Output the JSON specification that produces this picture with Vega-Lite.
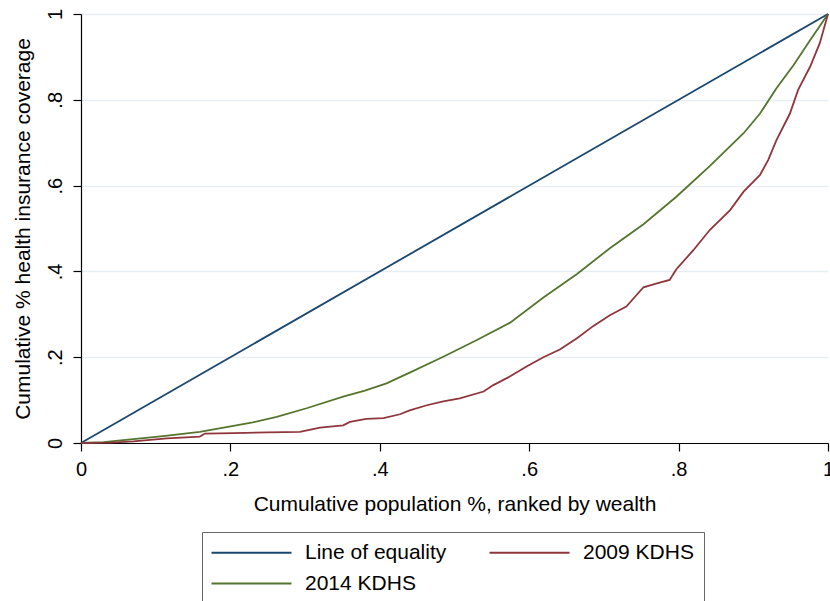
{
  "$schema": "https://vega.github.io/schema/vega-lite/v6.json",
  "autosize": {"type": "none"},
  "padding": {"left": 81, "top": 14, "right": 2, "bottom": 158},
  "width": 747,
  "height": 429,
  "background": "white",
  "config": {
    "view": {"stroke": null},
    "font": "Liberation Sans",
    "axis": {"labelFont": "Liberation Sans", "titleFont": "Liberation Sans", "titleFontWeight": "normal", "labelColor": "#000", "titleColor": "#000", "domainColor": "#000", "tickColor": "#000"}
  },
  "data": {
    "values": [
      {"series": "Line of equality", "x": 0, "y": 0},
      {"series": "Line of equality", "x": 1, "y": 1},
      {"series": "2014 KDHS", "x": 0, "y": 0},
      {"series": "2014 KDHS", "x": 0.03, "y": 0.002},
      {"series": "2014 KDHS", "x": 0.07, "y": 0.009},
      {"series": "2014 KDHS", "x": 0.11, "y": 0.016},
      {"series": "2014 KDHS", "x": 0.159, "y": 0.026},
      {"series": "2014 KDHS", "x": 0.204, "y": 0.04},
      {"series": "2014 KDHS", "x": 0.23, "y": 0.048},
      {"series": "2014 KDHS", "x": 0.262, "y": 0.061},
      {"series": "2014 KDHS", "x": 0.302, "y": 0.081},
      {"series": "2014 KDHS", "x": 0.351, "y": 0.108},
      {"series": "2014 KDHS", "x": 0.38, "y": 0.122},
      {"series": "2014 KDHS", "x": 0.409, "y": 0.139},
      {"series": "2014 KDHS", "x": 0.44, "y": 0.164},
      {"series": "2014 KDHS", "x": 0.485, "y": 0.201},
      {"series": "2014 KDHS", "x": 0.53, "y": 0.24},
      {"series": "2014 KDHS", "x": 0.574, "y": 0.28},
      {"series": "2014 KDHS", "x": 0.619, "y": 0.339},
      {"series": "2014 KDHS", "x": 0.664, "y": 0.394},
      {"series": "2014 KDHS", "x": 0.708, "y": 0.454},
      {"series": "2014 KDHS", "x": 0.753, "y": 0.51},
      {"series": "2014 KDHS", "x": 0.797, "y": 0.574},
      {"series": "2014 KDHS", "x": 0.842, "y": 0.646},
      {"series": "2014 KDHS", "x": 0.887, "y": 0.722},
      {"series": "2014 KDHS", "x": 0.909, "y": 0.768},
      {"series": "2014 KDHS", "x": 0.931, "y": 0.827},
      {"series": "2014 KDHS", "x": 0.954, "y": 0.881},
      {"series": "2014 KDHS", "x": 0.976, "y": 0.939},
      {"series": "2014 KDHS", "x": 1, "y": 1},
      {"series": "2009 KDHS", "x": 0, "y": 0},
      {"series": "2009 KDHS", "x": 0.04, "y": 0.001},
      {"series": "2009 KDHS", "x": 0.07, "y": 0.004},
      {"series": "2009 KDHS", "x": 0.115, "y": 0.011},
      {"series": "2009 KDHS", "x": 0.159, "y": 0.015},
      {"series": "2009 KDHS", "x": 0.166, "y": 0.022},
      {"series": "2009 KDHS", "x": 0.204, "y": 0.023},
      {"series": "2009 KDHS", "x": 0.25, "y": 0.025},
      {"series": "2009 KDHS", "x": 0.293, "y": 0.026},
      {"series": "2009 KDHS", "x": 0.32, "y": 0.036},
      {"series": "2009 KDHS", "x": 0.351, "y": 0.041},
      {"series": "2009 KDHS", "x": 0.36, "y": 0.049},
      {"series": "2009 KDHS", "x": 0.382, "y": 0.056},
      {"series": "2009 KDHS", "x": 0.405, "y": 0.058},
      {"series": "2009 KDHS", "x": 0.427, "y": 0.067},
      {"series": "2009 KDHS", "x": 0.44, "y": 0.076},
      {"series": "2009 KDHS", "x": 0.463, "y": 0.088},
      {"series": "2009 KDHS", "x": 0.485, "y": 0.097},
      {"series": "2009 KDHS", "x": 0.507, "y": 0.104},
      {"series": "2009 KDHS", "x": 0.539, "y": 0.12},
      {"series": "2009 KDHS", "x": 0.552, "y": 0.135},
      {"series": "2009 KDHS", "x": 0.574, "y": 0.155},
      {"series": "2009 KDHS", "x": 0.597, "y": 0.179},
      {"series": "2009 KDHS", "x": 0.619, "y": 0.2},
      {"series": "2009 KDHS", "x": 0.641, "y": 0.218},
      {"series": "2009 KDHS", "x": 0.664, "y": 0.244},
      {"series": "2009 KDHS", "x": 0.686, "y": 0.273},
      {"series": "2009 KDHS", "x": 0.708, "y": 0.298},
      {"series": "2009 KDHS", "x": 0.73, "y": 0.318},
      {"series": "2009 KDHS", "x": 0.753, "y": 0.363},
      {"series": "2009 KDHS", "x": 0.771, "y": 0.372},
      {"series": "2009 KDHS", "x": 0.788, "y": 0.38},
      {"series": "2009 KDHS", "x": 0.797, "y": 0.405},
      {"series": "2009 KDHS", "x": 0.82, "y": 0.45},
      {"series": "2009 KDHS", "x": 0.842, "y": 0.497},
      {"series": "2009 KDHS", "x": 0.869, "y": 0.543},
      {"series": "2009 KDHS", "x": 0.887, "y": 0.586},
      {"series": "2009 KDHS", "x": 0.909, "y": 0.625},
      {"series": "2009 KDHS", "x": 0.92, "y": 0.66},
      {"series": "2009 KDHS", "x": 0.931, "y": 0.706},
      {"series": "2009 KDHS", "x": 0.949, "y": 0.768},
      {"series": "2009 KDHS", "x": 0.96, "y": 0.823},
      {"series": "2009 KDHS", "x": 0.976, "y": 0.877},
      {"series": "2009 KDHS", "x": 0.989, "y": 0.932},
      {"series": "2009 KDHS", "x": 1, "y": 1}
    ]
  },
  "mark": {"type": "line", "strokeWidth": 1.8, "clip": false},
  "encoding": {
    "x": {
      "field": "x", "type": "quantitative",
      "scale": {"domain": [0, 1], "nice": false, "zero": false},
      "axis": {
        "values": [0, 0.2, 0.4, 0.6, 0.8, 1],
        "labelExpr": "datum.value == 0 ? '0' : datum.value == 1 ? '1' : replace(format(datum.value, '.1f'), '0.', '.')",
        "grid": false, "tickSize": 8, "tickWidth": 1.2, "domainWidth": 1.2,
        "labelFontSize": 20, "labelPadding": 8, "labelFlush": false,
        "title": "Cumulative population %, ranked by wealth",
        "titleFontSize": 21, "titlePadding": 14
      }
    },
    "y": {
      "field": "y", "type": "quantitative",
      "scale": {"domain": [0, 1], "nice": false, "zero": false},
      "axis": {
        "values": [0, 0.2, 0.4, 0.6, 0.8, 1],
        "labelExpr": "datum.value == 0 ? '0' : datum.value == 1 ? '1' : replace(format(datum.value, '.1f'), '0.', '.')",
        "grid": true, "gridColor": "#e6eef1", "gridWidth": 1.5,
        "tickSize": 8, "tickWidth": 1.2, "domainWidth": 1.2,
        "labelAngle": -90, "labelFontSize": 20, "labelPadding": 8, "labelFlush": false,
        "title": "Cumulative % health insurance coverage",
        "titleFontSize": 21, "titlePadding": 12
      }
    },
    "color": {
      "field": "series", "type": "nominal",
      "scale": {
        "domain": ["Line of equality", "2009 KDHS", "2014 KDHS"],
        "range": ["#1a476f", "#90353b", "#55752f"]
      },
      "legend": {
        "title": null,
        "orient": "none",
        "direction": "horizontal",
        "legendX": 121,
        "legendY": 518,
        "columns": 2,
        "columnPadding": 38,
        "rowPadding": 9,
        "symbolType": "M-2.2,0H13.8",
        "symbolSize": 100,
        "symbolStrokeWidth": 2,
        "labelFontSize": 21,
        "labelFont": "Liberation Sans",
        "labelColor": "#000",
        "labelOffset": 72,
        "labelLimit": 300,
        "padding": 10,
        "strokeColor": "#666",
        "fillColor": "white"
      }
    }
  }
}
